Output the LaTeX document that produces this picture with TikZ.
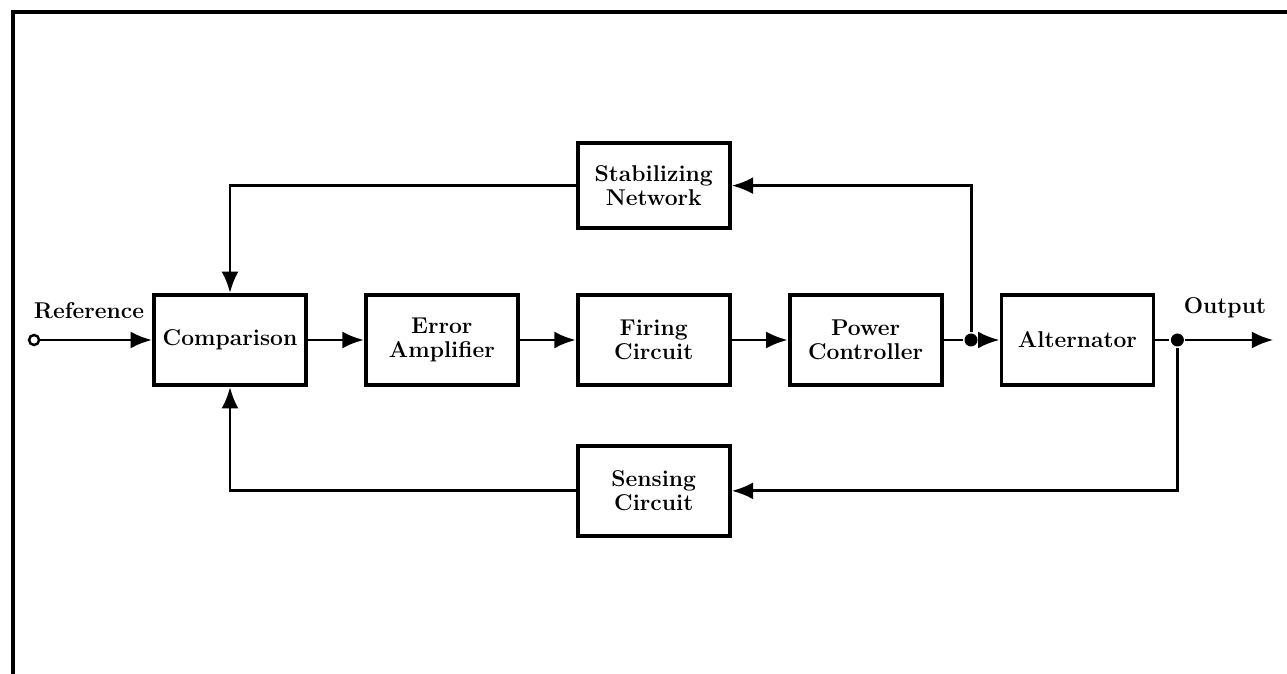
\documentclass[tikz,border=0pt]{standalone}
\usepackage{amsmath}
\usepackage{xcolor}
\usepackage{tikz}
\usetikzlibrary{positioning,arrows.meta}

\begin{document}
\begin{tikzpicture}[node distance={11.2mm}, >={Latex[length=4.3mm,width=3.4mm]},
    main/.style = {draw, line width=2.2pt, minimum width=30.4mm, minimum height=18mm, align=center,
        font=\fontsize{13}{14}\selectfont\bfseries},
    lbl/.style = {font=\fontsize{13}{14}\selectfont\bfseries},
    dot/.style = {circle, fill, inner sep=0pt, minimum size=2.6mm},
    open/.style = {circle, draw, line width=1.4pt, fill=white, inner sep=0pt, minimum size=2mm},
    every path/.append style = {line width=1.7pt}]
    \useasboundingbox (0,0) rectangle (25.74,13.48);
    % frame
    \draw[line width=2pt] (0.26,0) -- (0.26,13.24) -- (25.74,13.24);
    \node[main] (1) at (4.6,6.68) {Comparison};
    \node[main] (2) [right=of 1] {Error\\Amplifier};
    \node[main] (3) [right=of 2] {Firing\\Circuit};
    \node[main] (4) [right=of 3] {Power\\Controller};
    \node[main] (5) [right=of 4] {Alternator};
    \node[main, minimum height=17mm] (6) [above=12.6mm of 3] {Stabilizing\\Network};
    \node[main] (7) [below=11.4mm of 3] {Sensing\\Circuit};
    \node[open] (r) at ([xshift=-23.6mm]1.west) {};
    \node[dot] (a) at ([xshift=5.5mm]4.east) {};
    \node[dot] (b) at ([xshift=4.4mm]5.east) {};
    \coordinate (c) at ([xshift=23.6mm]5.east);
    \node[lbl, anchor=south west] (rl) at ([xshift=-1.5mm,yshift=1.5mm]r.north) {Reference};
    \node[lbl, anchor=south east] (ol) at ([yshift=3mm]c) {Output};
    \draw[->] (r) -- (1);
    \draw[->] (1) -- (2);
    \draw[->] (2) -- (3);
    \draw[->] (3) -- (4);
    \draw (4) -- (a);
    \draw[->] (a) -- (5);
    \draw (5) -- (b);
    \draw[->] (b) -- (c);
    \draw[->] (a) |- (6);
    \draw[->] (6) -| (1);
    \draw[->] (b) |- (7);
    \draw[->] (7) -| (1);
\end{tikzpicture}
\end{document}
